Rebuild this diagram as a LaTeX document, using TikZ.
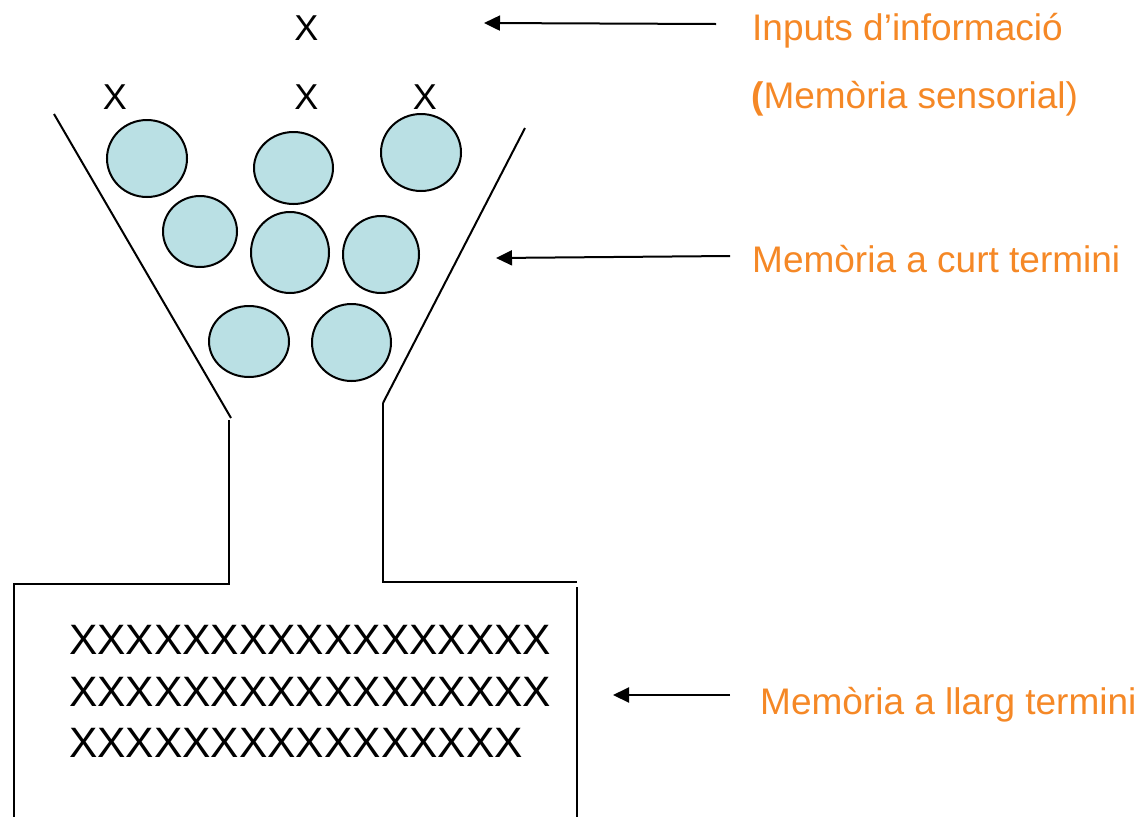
\documentclass[tikz,border=0pt]{standalone}
\usepackage{fontspec}
\setmainfont{Liberation Sans}
\usetikzlibrary{shapes.geometric,arrows.meta}
\definecolor{lbl}{RGB}{245,136,38}
\definecolor{ballfill}{RGB}{186,224,228}
\tikzset{
  wall/.style={line width=2pt, line cap=butt},
  ball/.style={ellipse, draw=black, line width=2pt, fill=ballfill, inner sep=0pt, outer sep=0pt},
  xmark/.style={inner sep=0pt, anchor=base, font=\fontsize{36}{40}\selectfont},
  xrow/.style={inner sep=0pt, anchor=base west, font=\fontsize{42.5}{50}\selectfont},
  lbltext/.style={inner sep=0pt, anchor=base west, text=lbl, font=\fontsize{37}{44}\selectfont},
  pointer/.style={line width=2pt, -{Triangle[length=16pt,width=15pt]}}
}
\begin{document}
\begin{tikzpicture}[x=1pt,y=-1pt]
\useasboundingbox (0,0) rectangle (1144,817);
% funnel
\draw[wall] (54,114) -- (231,418);
\draw[wall] (229,420) -- (229,584) -- (14,584) -- (14,820);
\draw[wall] (525,128) -- (383,403);
\draw[wall] (383,403) -- (383,582) -- (577,582);
\draw[wall] (577,587) -- (577,820);
% balls
\node[ball, minimum width=80pt, minimum height=77pt] (c1) at (147,158.5) {};
\node[ball, minimum width=79pt, minimum height=72pt] (c2) at (293.5,168) {};
\node[ball, minimum width=80pt, minimum height=77pt] (c3) at (421,152.5) {};
\node[ball, minimum width=74pt, minimum height=71pt] (c4) at (200,231.5) {};
\node[ball, minimum width=78pt, minimum height=81pt] (c5) at (290,252.5) {};
\node[ball, minimum width=76pt, minimum height=77pt] (c6) at (381,254.5) {};
\node[ball, minimum width=80pt, minimum height=71pt] (c7) at (249,341.5) {};
\node[ball, minimum width=79pt, minimum height=77pt] (c8) at (351.5,342.5) {};
% input X marks
\node[xmark] (x0) at (306.5,40) {X};
\node[xmark] (x1) at (115,109) {X};
\node[xmark] (x2) at (306.5,109) {X};
\node[xmark] (x3) at (425,109) {X};
% long-term store
\node[xrow] (r1) at (69,654) {XXXXXXXXXXXXXXXXX};
\node[xrow] (r2) at (69,706) {XXXXXXXXXXXXXXXXX};
\node[xrow] (r3) at (69,757) {XXXXXXXXXXXXXXXX};
% labels
\node[lbltext] (l1) at (752,40) {Inputs d’informació};
\node[lbltext] (l2) at (751,108) {\textbf{(}Memòria sensorial)};
\node[lbltext] (l3) at (752,272) {Memòria a curt termini};
\node[lbltext] (l4) at (760,714) {Memòria a llarg termini};
% arrows
\coordinate (a1s) at (716,24);
\coordinate (a1e) at (484,23);
\coordinate (a2s) at (730,256);
\coordinate (a2e) at (496,258);
\coordinate (a3s) at (730,695);
\coordinate (a3e) at (613,695);
\draw[pointer] (a1s) -- (a1e);
\draw[pointer] (a2s) -- (a2e);
\draw[pointer] (a3s) -- (a3e);
\end{tikzpicture}
\end{document}
